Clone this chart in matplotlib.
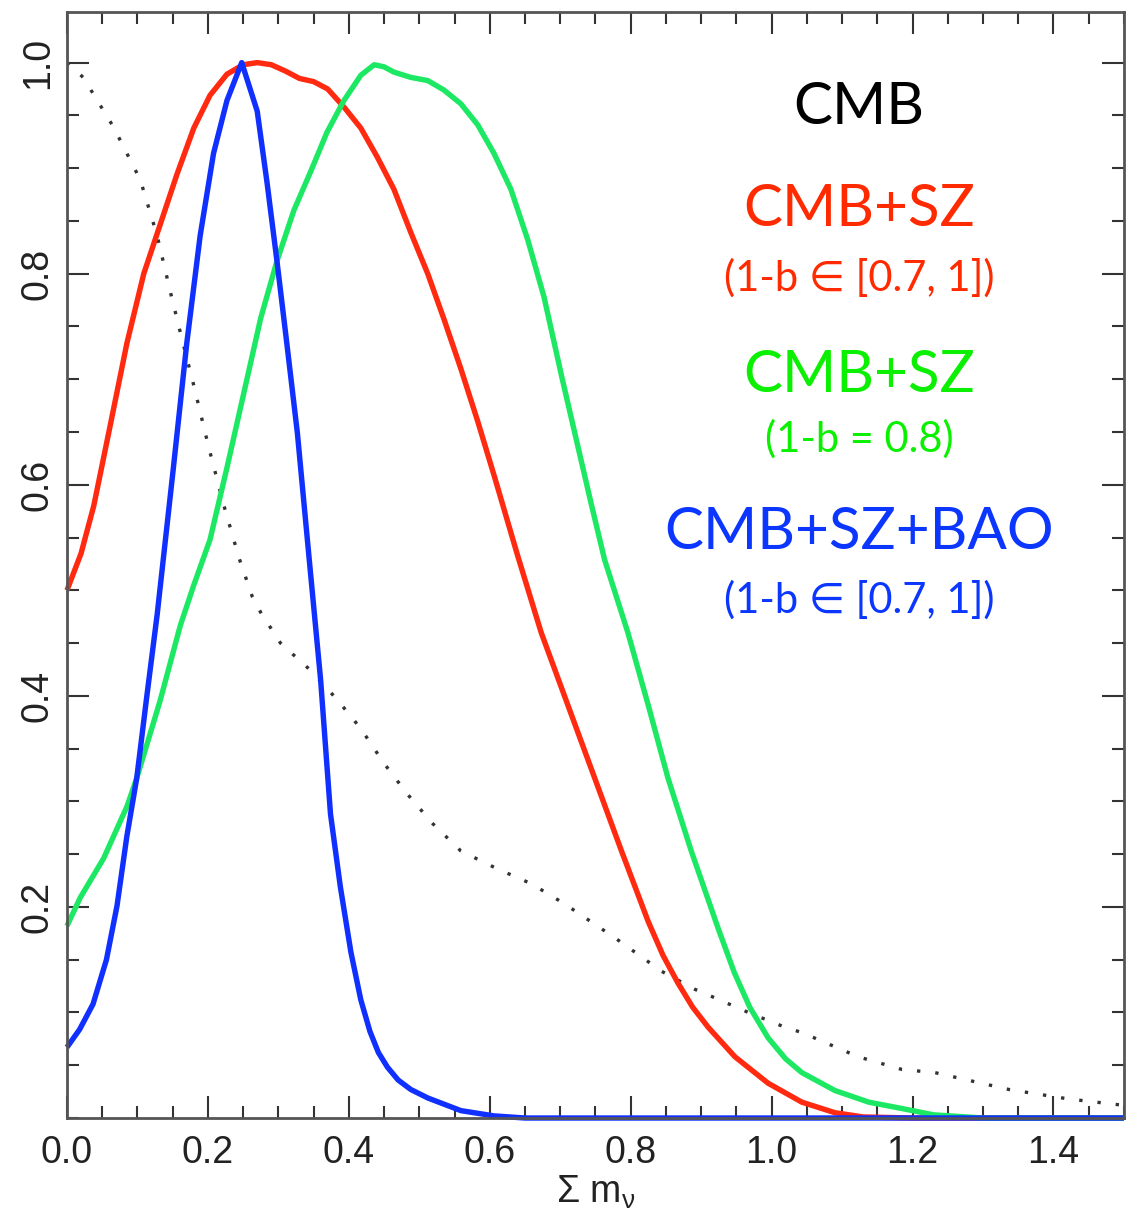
import matplotlib
matplotlib.use("Agg")
import matplotlib.pyplot as plt
from matplotlib.ticker import MultipleLocator

# ==================================================
# DATA: normalised posteriors for the summed neutrino mass
# ==================================================
# CMB only (dotted)
cmb_x = [0.000, 0.023, 0.066, 0.104, 0.128, 0.147, 0.161, 0.180, 0.201, 0.222,
         0.244, 0.263, 0.275, 0.303, 0.346, 0.384, 0.417, 0.450, 0.483, 0.519,
         0.559, 0.611, 0.659, 0.706, 0.777, 0.844, 0.891, 0.919, 0.967, 1.019,
         1.043, 1.123, 1.185, 1.232, 1.337, 1.422, 1.500]
cmb_y = [1.000, 0.986, 0.939, 0.889, 0.836, 0.782, 0.744, 0.694, 0.636, 0.582,
         0.531, 0.494, 0.479, 0.450, 0.424, 0.396, 0.369, 0.336, 0.307, 0.279,
         0.253, 0.236, 0.222, 0.203, 0.171, 0.139, 0.122, 0.114, 0.100, 0.086,
         0.081, 0.058, 0.046, 0.043, 0.027, 0.018, 0.012]

# CMB+SZ, 1-b in [0.7, 1]
sz_x = [0.000, 0.020, 0.038, 0.061, 0.085, 0.109, 0.132, 0.156, 0.180, 0.203,
        0.227, 0.250, 0.270, 0.290, 0.310, 0.330, 0.350, 0.370, 0.393, 0.417,
        0.440, 0.464, 0.488, 0.512, 0.535, 0.559, 0.583, 0.607, 0.640, 0.673,
        0.711, 0.749, 0.787, 0.825, 0.846, 0.867, 0.888, 0.910, 0.948, 0.995,
        1.043, 1.090, 1.130, 1.200, 1.500]
sz_y = [0.500, 0.535, 0.580, 0.655, 0.734, 0.800, 0.846, 0.894, 0.938, 0.969,
        0.989, 0.998, 1.000, 0.998, 0.992, 0.985, 0.982, 0.975, 0.958, 0.938,
        0.911, 0.880, 0.839, 0.800, 0.757, 0.710, 0.660, 0.607, 0.532, 0.460,
        0.391, 0.322, 0.253, 0.186, 0.154, 0.128, 0.105, 0.086, 0.058, 0.033,
        0.015, 0.005, 0.001, 0.000, 0.000]

# CMB+SZ, 1-b = 0.8
sz08_x = [0.000, 0.019, 0.052, 0.085, 0.099, 0.132, 0.161, 0.180, 0.203, 0.227,
          0.251, 0.275, 0.298, 0.322, 0.346, 0.369, 0.393, 0.417, 0.436, 0.450,
          0.464, 0.488, 0.512, 0.535, 0.559, 0.583, 0.606, 0.630, 0.654, 0.677,
          0.703, 0.744, 0.763, 0.796, 0.825, 0.853, 0.886, 0.924, 0.947, 0.969,
          0.995, 1.020, 1.043, 1.090, 1.138, 1.185, 1.230, 1.300, 1.500]
sz08_y = [0.182, 0.209, 0.246, 0.295, 0.322, 0.395, 0.467, 0.505, 0.548, 0.616,
          0.687, 0.758, 0.812, 0.860, 0.897, 0.934, 0.964, 0.988, 0.998, 0.996,
          0.991, 0.986, 0.983, 0.974, 0.961, 0.941, 0.914, 0.880, 0.832, 0.778,
          0.700, 0.582, 0.529, 0.460, 0.391, 0.322, 0.253, 0.180, 0.138, 0.105,
          0.076, 0.056, 0.043, 0.026, 0.015, 0.009, 0.003, 0.000, 0.000]

# CMB+SZ+BAO, 1-b in [0.7, 1]
bao_x = [0.000, 0.018, 0.037, 0.056, 0.071, 0.085, 0.099, 0.113, 0.128, 0.151,
         0.170, 0.189, 0.208, 0.227, 0.248, 0.270, 0.284, 0.298, 0.312, 0.327,
         0.343, 0.360, 0.374, 0.388, 0.403, 0.417, 0.430, 0.442, 0.455, 0.470,
         0.488, 0.512, 0.559, 0.606, 0.650, 1.500]
bao_y = [0.067, 0.084, 0.108, 0.150, 0.201, 0.267, 0.322, 0.398, 0.477, 0.616,
         0.734, 0.836, 0.914, 0.964, 1.000, 0.954, 0.886, 0.812, 0.734, 0.649,
         0.535, 0.415, 0.288, 0.219, 0.157, 0.112, 0.082, 0.062, 0.048, 0.036,
         0.027, 0.019, 0.007, 0.002, 0.000, 0.000]

x_ticks = [0.0, 0.2, 0.4, 0.6, 0.8, 1.0, 1.2, 1.4]
y_ticks = [0.2, 0.4, 0.6, 0.8, 1.0]

# ==================================================
# STYLE
# ==================================================
red_line = "#ff2a10"
green_line = "#1de864"
blue_line = "#1030ff"
red_text = "#ff2a00"
green_text = "#0af000"
blue_text = "#0a36ff"
axis_grey = "#555555"

label_font = ["Lato", "DejaVu Sans"]
plt.rcParams["font.family"] = ["Liberation Sans", "DejaVu Sans"]
plt.rcParams["mathtext.fontset"] = "custom"
plt.rcParams["mathtext.rm"] = "Liberation Sans"
plt.rcParams["mathtext.it"] = "Liberation Sans"

fig = plt.figure(figsize=(11.41, 12.20), dpi=100)
ax = fig.add_axes([0.0587, 0.0836, 0.9263, 0.9066])

# ==================================================
# CURVES
# ==================================================
ax.plot(cmb_x, cmb_y, color="#333333", lw=2.4, linestyle=(0, (1, 4.5)))
ax.plot(sz_x, sz_y, color=red_line, lw=3.9, clip_on=False,
        solid_capstyle="butt", solid_joinstyle="round")
ax.plot(sz08_x, sz08_y, color=green_line, lw=3.9, clip_on=False,
        solid_capstyle="butt", solid_joinstyle="round")
ax.plot(bao_x, bao_y, color=blue_line, lw=3.9, clip_on=False,
        solid_capstyle="butt", solid_joinstyle="round")

# ==================================================
# AXES
# ==================================================
ax.set_xlim(0, 1.5)
ax.set_ylim(0, 1.048)

ax.set_xticks(x_ticks)
ax.set_xticklabels([f"{v:.1f}" for v in x_ticks])
ax.xaxis.set_minor_locator(MultipleLocator(0.05))
ax.set_yticks(y_ticks)
ax.set_yticklabels([f"{v:.1f}" for v in y_ticks], rotation=90, va="center")
ax.yaxis.set_minor_locator(MultipleLocator(0.05))

ax.tick_params(which="both", direction="in", top=True, right=True,
               color="#333333", width=1.5)
ax.tick_params(which="major", length=16)
ax.tick_params(which="minor", length=8.5)
ax.tick_params(axis="x", labelsize=27, labelcolor="#222222", pad=12)
ax.tick_params(axis="y", labelsize=27, labelcolor="#222222", pad=8)

for spine in ax.spines.values():
    spine.set_color(axis_grey)
    spine.set_linewidth(2.0)

ax.set_xlabel(r"$\Sigma\ \mathrm{m}_{\nu}$", fontsize=27, color="#222222", labelpad=2)

# ==================================================
# LABELS
# ==================================================
xc = 1.124
ax.text(xc, 0.957, "CMB", color="black", fontsize=42, ha="center", va="center",
        family=label_font)
ax.text(xc, 0.861, "CMB+SZ", color=red_text, fontsize=42, ha="center", va="center",
        family=label_font)
ax.text(xc, 0.796, "(1-b ∈ [0.7, 1])", color=red_text, fontsize=30, ha="center",
        va="center", family=label_font)
ax.text(xc, 0.704, "CMB+SZ", color=green_text, fontsize=42, ha="center", va="center",
        family=label_font)
ax.text(xc, 0.643, "(1-b = 0.8)", color=green_text, fontsize=30, ha="center",
        va="center", family=label_font)
ax.text(xc, 0.555, "CMB+SZ+BAO", color=blue_text, fontsize=42, ha="center",
        va="center", family=label_font)
ax.text(xc, 0.491, "(1-b ∈ [0.7, 1])", color=blue_text, fontsize=30, ha="center",
        va="center", family=label_font)

fig.savefig("out.png", dpi=100)
